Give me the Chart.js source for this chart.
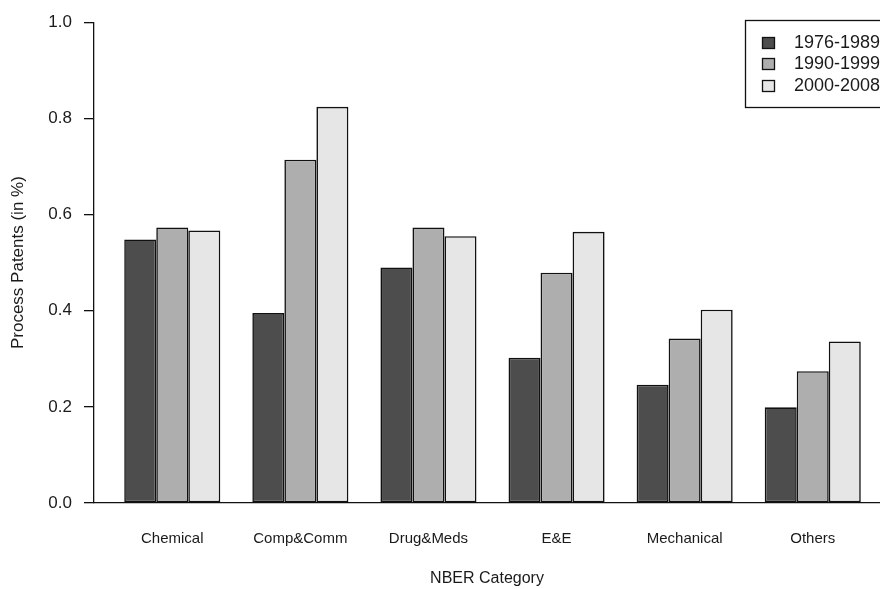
<!DOCTYPE html>
<html>
<head>
<meta charset="utf-8">
<script src="https://cdn.jsdelivr.net/npm/chart.js@4/dist/chart.umd.min.js"></script>
<style>
  html, body { margin: 0; padding: 0; background: #ffffff; }
  #wrap { width: 880px; height: 589px; position: relative; }
</style>
</head>
<body>
<div id="wrap"><canvas id="c" width="880" height="589"></canvas></div>
<script>
// ---- data ----
const categories = ['Chemical', 'Comp&Comm', 'Drug&Meds', 'E&E', 'Mechanical', 'Others'];
const periods = ['1976-1989', '1990-1999', '2000-2008'];
const s1976_1989 = [0.548, 0.395, 0.490, 0.302, 0.246, 0.199];
const s1990_1999 = [0.573, 0.714, 0.573, 0.479, 0.342, 0.274];
const s2000_2008 = [0.567, 0.824, 0.555, 0.564, 0.402, 0.336];
const yTickLabels = ['0.0', '0.2', '0.4', '0.6', '0.8', '1.0'];
const xTitle = 'NBER Category';
const yTitle = 'Process Patents (in %)';

// ---- styles ----
const FONT = '"Liberation Sans", Arial, sans-serif';
const TEXT = '#1a1a1a';
const fills = ['#4D4D4D', '#AEAEAE', '#E6E6E6'];
const seriesValues = [s1976_1989, s1990_1999, s2000_2008];

const datasets = periods.map((p, k) => ({
  label: p,
  data: seriesValues[k].map((v, i) => ({ x: i, y: v })),
  backgroundColor: fills[k],
  borderColor: '#111111',
  borderWidth: 1.6,
  borderSkipped: false,
  categoryPercentage: 0.75,
  barPercentage: 1.0
}));

const boxLegend = {
  id: 'boxLegend',
  afterDraw(chart) {
    const ctx = chart.ctx;
    ctx.save();
    ctx.lineWidth = 1.3;
    ctx.strokeStyle = '#111111';
    ctx.strokeRect(745.5, 20.5, 150, 87);
    ctx.font = '18px ' + FONT;
    ctx.textBaseline = 'middle';
    ctx.textAlign = 'left';
    chart.data.datasets.forEach((ds, k) => {
      const cy = 42 + k * 21.5;
      ctx.fillStyle = ds.backgroundColor;
      ctx.fillRect(762.5, Math.round(cy - 5.5) + 0.5, 12, 11);
      ctx.strokeRect(762.5, Math.round(cy - 5.5) + 0.5, 12, 11);
      ctx.fillStyle = TEXT;
      ctx.fillText(ds.label, 794, cy + 1);
    });
    ctx.restore();
  }
};

new Chart(document.getElementById('c'), {
  type: 'bar',
  data: { datasets },
  options: {
    responsive: false,
    animation: false,
    layout: { padding: { left: 0, right: 0, top: 20, bottom: 0 } },
    plugins: {
      legend: { display: false },
      tooltip: { enabled: false }
    },
    scales: {
      x: {
        type: 'linear',
        min: -0.611,
        max: 5.525,
        offset: false,
        afterFit: (s) => { s.height = 86; },
        afterBuildTicks: (s) => {
          s.ticks = categories.map((c, i) => ({ value: i }));
        },
        ticks: {
          autoSkip: false,
          maxRotation: 0,
          padding: 27,
          color: TEXT,
          font: { family: FONT, size: 15 },
          callback: (v) => categories[v]
        },
        grid: { display: false, drawTicks: false },
        border: { display: true, color: '#111111', width: 1.3 },
        title: {
          display: true,
          text: xTitle,
          color: TEXT,
          font: { family: FONT, size: 16 },
          padding: { top: 0, bottom: 1 }
        }
      },
      y: {
        min: 0,
        max: 1,
        afterFit: (s) => { s.width = 94; },
        ticks: {
          stepSize: 0.2,
          padding: 12,
          color: TEXT,
          font: { family: FONT, size: 17 },
          callback: (v) => yTickLabels[Math.round(v * 5)]
        },
        grid: {
          drawOnChartArea: false,
          drawTicks: true,
          tickLength: 10,
          color: '#111111',
          lineWidth: 1.3
        },
        border: { display: true, color: '#111111', width: 1.3 },
        title: {
          display: true,
          text: yTitle,
          color: TEXT,
          font: { family: FONT, size: 17 },
          padding: { top: 8, bottom: 0 }
        }
      }
    }
  },
  plugins: [boxLegend]
});
</script>
</body>
</html>
